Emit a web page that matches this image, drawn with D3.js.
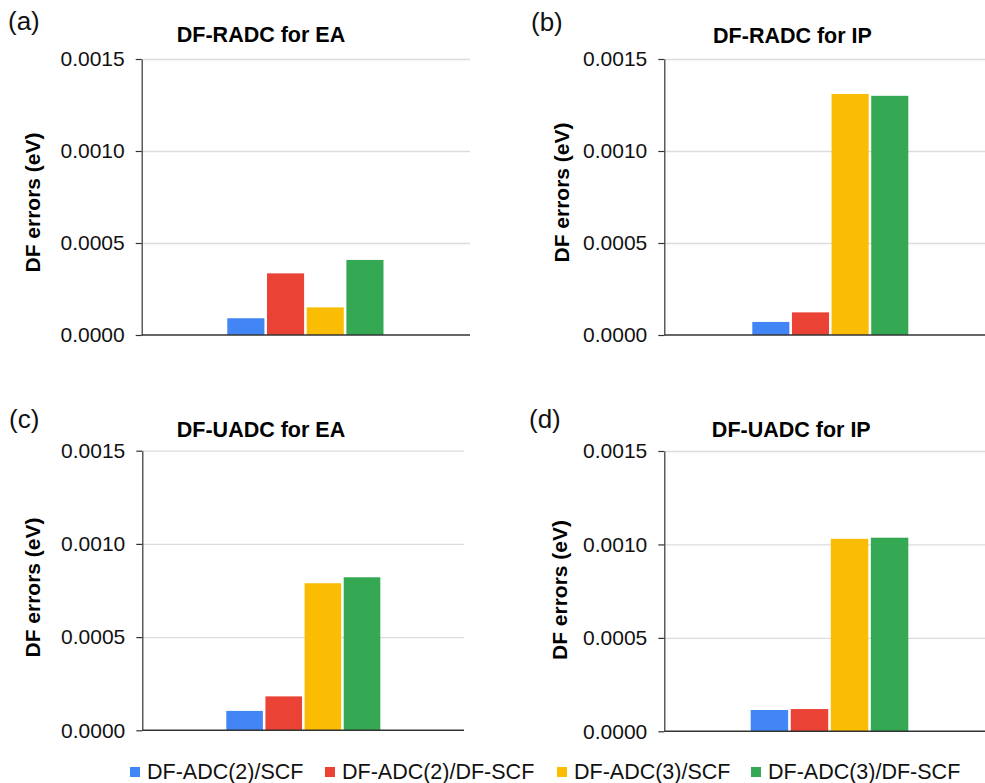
<!DOCTYPE html>
<html>
<head>
<meta charset="utf-8">
<script src="https://cdn.jsdelivr.net/npm/d3@7/dist/d3.min.js"></script>
<style>
  html, body { margin: 0; padding: 0; background: #fff; }
  svg { display: block; font-family: "Liberation Sans", Arial, sans-serif; }
</style>
</head>
<body>
<svg id="chart" width="985" height="783"></svg>
<script>
// ---- data ----
const categories = ["DF-ADC(2)/SCF", "DF-ADC(2)/DF-SCF", "DF-ADC(3)/SCF", "DF-ADC(3)/DF-SCF"];
const colors = ["#4285F4", "#EA4335", "#FBBC04", "#34A853"];
const panelLetters = ["(a)", "(b)", "(c)", "(d)"];
const panelTitles = ["DF-RADC for EA", "DF-RADC for IP", "DF-UADC for EA", "DF-UADC for IP"];
const radcEA = [0.000091, 0.000335, 0.000150, 0.000408];
const radcIP = [0.000071, 0.000123, 0.001310, 0.001300];
const uadcEA = [0.000104, 0.000182, 0.000789, 0.000821];
const uadcIP = [0.000114, 0.000119, 0.001030, 0.001036];
const yTicks = [0, 0.0005, 0.0010, 0.0015];
const yTickLabels = ["0.0000", "0.0005", "0.0010", "0.0015"];
const yAxisLabel = "DF errors (eV)";
const yMax = 0.0015;

const panelValues = [radcEA, radcIP, uadcEA, uadcIP];

// ---- layout (pixels) ----
const layouts = [
  { ax: 141.7, top: 59,    bottom: 335,   right: 470, g0: 227.3, g1: 383.5, titleX: 261,   titleY: 41.5, letX: 8,   letY: 30,  labX: 40,  labY: 202.5 },
  { ax: 664.3, top: 59,    bottom: 335,   right: 985, g0: 752.3, g1: 908.3, titleX: 792.5, titleY: 43,   letX: 531, letY: 31,  labX: 569, labY: 192.5 },
  { ax: 142.3, top: 450.7, bottom: 730.3, right: 464, g0: 226.3, g1: 380.3, titleX: 261,   titleY: 436.5, letX: 9,  letY: 428, labX: 40,  labY: 587.5 },
  { ax: 664.3, top: 451,   bottom: 731.3, right: 985, g0: 750.7, g1: 908.3, titleX: 791.3, titleY: 436.5, letX: 529, letY: 428, labX: 567, labY: 590 }
];

const svg = d3.select("#chart");

panelValues.forEach((vals, i) => {
  const L = layouts[i];
  const g = svg.append("g");
  const y = d3.scaleLinear().domain([0, yMax]).range([L.bottom, L.top]);
  const x = d3.scaleBand().domain(categories).range([L.g0, L.g1]).paddingInner(0.065).paddingOuter(0);

  // gridlines
  const grid = g.append("g")
    .attr("transform", `translate(${L.ax},0)`)
    .call(d3.axisLeft(y).tickValues(yTicks.filter(t => t > 0)).tickSize(-(L.right - L.ax)).tickFormat(""));
  grid.select(".domain").remove();
  grid.selectAll(".tick line").attr("stroke", "#dcdcdc").attr("stroke-width", 1.3);

  // bars
  g.selectAll("rect.bar").data(vals).join("rect")
    .attr("class", "bar")
    .attr("x", (d, j) => x(categories[j]))
    .attr("width", x.bandwidth())
    .attr("y", d => y(d))
    .attr("height", d => y(0) - y(d))
    .attr("fill", (d, j) => colors[j]);

  // y axis
  const yAxis = g.append("g")
    .attr("transform", `translate(${L.ax},0)`)
    .call(d3.axisLeft(y).tickValues(yTicks).tickFormat((d, k) => yTickLabels[k]).tickSize(6).tickSizeOuter(0).tickPadding(11));
  yAxis.select(".domain").attr("stroke", "#333").attr("stroke-width", 1.2);
  yAxis.selectAll(".tick line").attr("stroke", "#333").attr("stroke-width", 1.2);
  yAxis.selectAll(".tick text").attr("fill", "#111").attr("font-size", "21px")
    .attr("font-family", '"Liberation Sans", Arial, sans-serif');

  // x baseline
  g.append("line")
    .attr("x1", L.ax).attr("x2", L.right)
    .attr("y1", y(0)).attr("y2", y(0))
    .attr("stroke", "#333").attr("stroke-width", 1.4);

  // title
  g.append("text")
    .attr("x", L.titleX).attr("y", L.titleY)
    .attr("text-anchor", "middle")
    .attr("font-size", "21.5px").attr("font-weight", "bold").attr("fill", "#000")
    .text(panelTitles[i]);

  // panel letter
  g.append("text")
    .attr("x", L.letX).attr("y", L.letY)
    .attr("font-size", "26px").attr("fill", "#111")
    .text(panelLetters[i]);

  // y axis label
  g.append("text")
    .attr("transform", `translate(${L.labX},${L.labY}) rotate(-90)`)
    .attr("text-anchor", "middle")
    .attr("font-size", "21px").attr("font-weight", "bold").attr("fill", "#000")
    .text(yAxisLabel);
});

// legend
const legendX = [130, 325, 557, 751];
const legend = svg.append("g");
categories.forEach((c, j) => {
  legend.append("rect")
    .attr("x", legendX[j]).attr("y", 767)
    .attr("width", 10).attr("height", 10)
    .attr("fill", colors[j]);
  legend.append("text")
    .attr("x", legendX[j] + 17).attr("y", 778.5)
    .attr("font-size", "21.5px").attr("fill", "#111")
    .text(c);
});
</script>
</body>
</html>
